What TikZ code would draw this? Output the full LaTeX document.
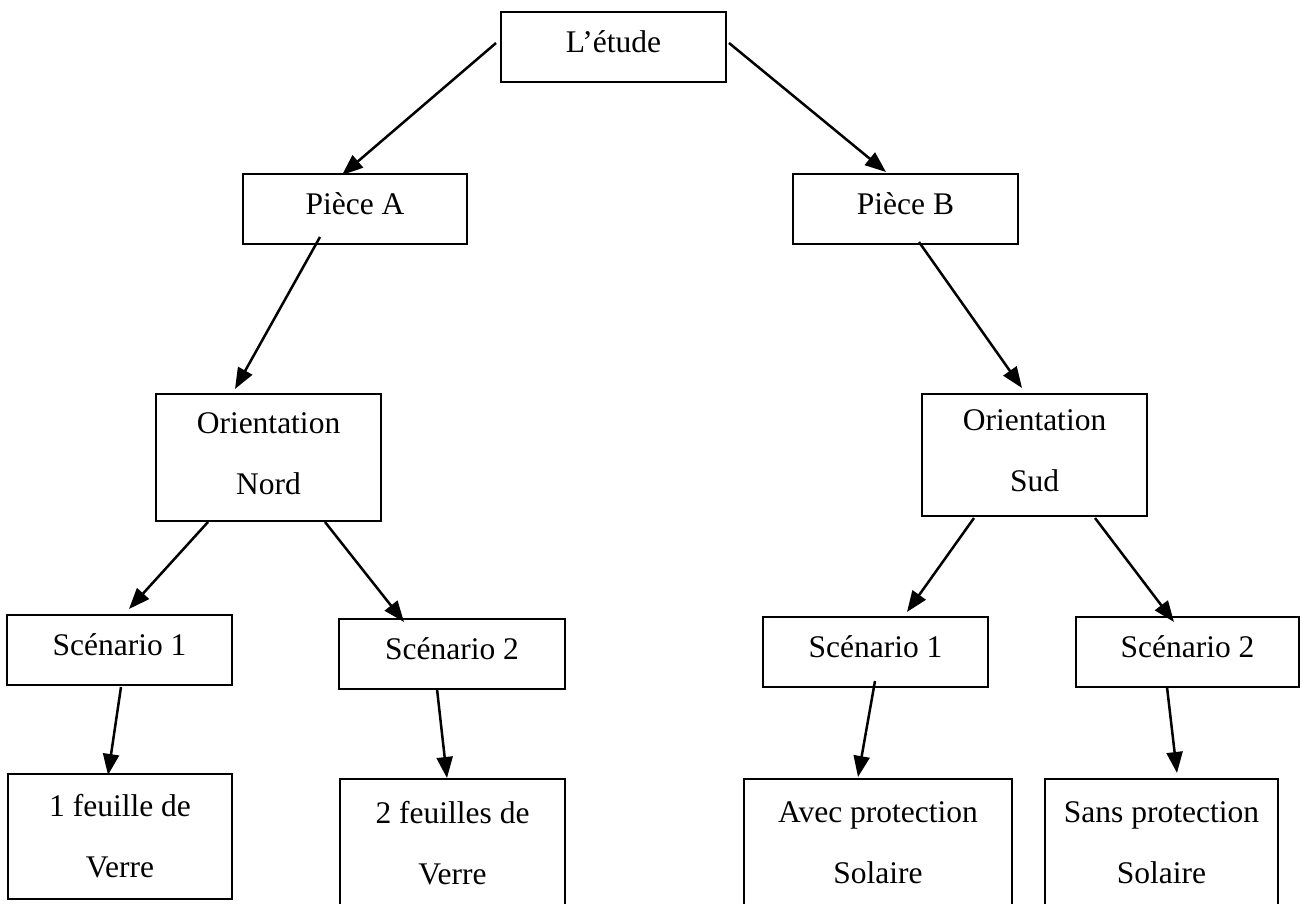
\documentclass[tikz,border=0pt]{standalone}
\usepackage{fontspec}
\setmainfont{Liberation Serif}
\usetikzlibrary{arrows.meta}
\begin{document}
\begin{tikzpicture}[x=1pt,y=-1pt,
  box/.style={draw, line width=2pt, inner sep=0pt, align=center,
    font=\fontsize{31.5}{61}\selectfont},
  oneline/.style={text height=20pt, text depth=9pt},
  arr/.style={line width=2.5pt, -{Triangle[length=21pt,width=16pt]}}]
\useasboundingbox (0,0) rectangle (1302,903);
\clip (0,0) rectangle (1302,903);
\fill[white] (0,0) rectangle (1302,903);
% boxes
\node[box,oneline,minimum width=225pt,minimum height=70pt] (etude) at (613.5,47) {L’étude};
\node[box,oneline,minimum width=224pt,minimum height=70pt] (pa) at (355,209) {Pièce A};
\node[box,oneline,minimum width=225pt,minimum height=70pt] (pb) at (905.5,209) {Pièce B};
\node[box,minimum width=225pt,minimum height=127pt,text depth=8pt] (nord) at (268.5,457.5) {Orientation\\Nord};
\node[box,minimum width=225pt,minimum height=122pt,text depth=8pt] (sud) at (1034.5,455) {Orientation\\Sud};
\node[box,oneline,minimum width=225pt,minimum height=70pt] (s1l) at (119.5,650) {Scénario 1};
\node[box,oneline,minimum width=226pt,minimum height=70pt] (s2l) at (452,654) {Scénario 2};
\node[box,oneline,minimum width=225pt,minimum height=70pt] (s1r) at (875.5,652) {Scénario 1};
\node[box,oneline,minimum width=223pt,minimum height=70pt] (s2r) at (1187.5,652) {Scénario 2};
\node[box,minimum width=224pt,minimum height=125pt] (b1) at (120,836.5) {1 feuille de\\Verre};
\node[box,minimum width=225pt,minimum height=128pt] (b2) at (452.5,843) {2 feuilles de\\Verre};
\node[box,minimum width=268pt,minimum height=128pt] (b3) at (878,843) {Avec protection\\Solaire};
\node[box,minimum width=233pt,minimum height=128pt] (b4) at (1161.5,843) {Sans protection\\Solaire};
% connector ends
\coordinate (a1s) at (496,43);   \coordinate (a1e) at (342,175);
\coordinate (a2s) at (729,43);   \coordinate (a2e) at (886,172);
\coordinate (a3s) at (320,237);  \coordinate (a3e) at (235,389);
\coordinate (a4s) at (919,242);  \coordinate (a4e) at (1022,388);
\coordinate (a5s) at (208,522);  \coordinate (a5e) at (129,609);
\coordinate (a6s) at (325,522);  \coordinate (a6e) at (404,622);
\coordinate (a7s) at (974,518);  \coordinate (a7e) at (907,612);
\coordinate (a8s) at (1095,518); \coordinate (a8e) at (1174,622);
\coordinate (a9s) at (121,687);  \coordinate (a9e) at (108,775);
\coordinate (a10s) at (437,689); \coordinate (a10e) at (447,778);
\coordinate (a11s) at (875,681); \coordinate (a11e) at (858,777);
\coordinate (a12s) at (1167,687);\coordinate (a12e) at (1177,773);
% connectors
\draw[arr] (a1s) -- (a1e);
\draw[arr] (a2s) -- (a2e);
\draw[arr] (a3s) -- (a3e);
\draw[arr] (a4s) -- (a4e);
\draw[arr] (a5s) -- (a5e);
\draw[arr] (a6s) -- (a6e);
\draw[arr] (a7s) -- (a7e);
\draw[arr] (a8s) -- (a8e);
\draw[arr] (a9s) -- (a9e);
\draw[arr] (a10s) -- (a10e);
\draw[arr] (a11s) -- (a11e);
\draw[arr] (a12s) -- (a12e);
\end{tikzpicture}
\end{document}
